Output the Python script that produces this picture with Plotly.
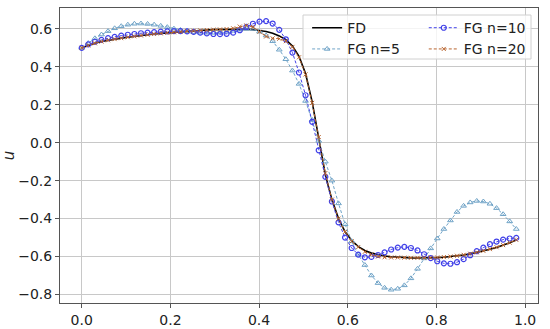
import plotly.graph_objects as go

x = [0.0, 0.0148, 0.0297, 0.0445, 0.0594, 0.0742, 0.0891, 0.1039, 0.1188, 0.1336,
     0.1485, 0.1633, 0.1782, 0.1930, 0.2079, 0.2227, 0.2376, 0.2524, 0.2673, 0.2821,
     0.2970, 0.3118, 0.3267, 0.3415, 0.3564, 0.3712, 0.3861, 0.4009, 0.4158, 0.4306,
     0.4455, 0.4603, 0.4752, 0.4900, 0.5048, 0.5197, 0.5345, 0.5494, 0.5642, 0.5791,
     0.5939, 0.6088, 0.6236, 0.6385, 0.6533, 0.6682, 0.6830, 0.6979, 0.7127, 0.7276,
     0.7424, 0.7573, 0.7721, 0.7870, 0.8018, 0.8167, 0.8315, 0.8464, 0.8612, 0.8761,
     0.8909, 0.9058, 0.9206, 0.9355, 0.9503, 0.9652, 0.9800]

fd = [0.500, 0.513, 0.524, 0.533, 0.540, 0.546, 0.551, 0.556, 0.561, 0.565,
      0.569, 0.573, 0.576, 0.579, 0.582, 0.585, 0.588, 0.590, 0.592, 0.594,
      0.596, 0.597, 0.598, 0.599, 0.599, 0.598, 0.596, 0.592, 0.586, 0.577,
      0.563, 0.543, 0.510, 0.455, 0.365, 0.215, 0.020, -0.170, -0.300, -0.400,
      -0.470, -0.515, -0.548, -0.568, -0.582, -0.591, -0.597, -0.601, -0.604, -0.606,
      -0.607, -0.608, -0.608, -0.607, -0.606, -0.604, -0.601, -0.597, -0.592, -0.586,
      -0.579, -0.571, -0.562, -0.552, -0.541, -0.528, -0.513]

fg5 = [0.500, 0.525, 0.550, 0.570, 0.588, 0.603, 0.614, 0.622, 0.627, 0.628,
       0.626, 0.622, 0.616, 0.609, 0.601, 0.594, 0.588, 0.583, 0.580, 0.579,
       0.579, 0.581, 0.585, 0.590, 0.596, 0.600, 0.600, 0.585, 0.565, 0.535,
       0.490, 0.440, 0.380, 0.310, 0.220, 0.120, 0.010, -0.100, -0.200, -0.320,
       -0.430, -0.520, -0.590, -0.645, -0.700, -0.740, -0.765, -0.775, -0.770, -0.752,
       -0.715, -0.665, -0.610, -0.557, -0.505, -0.455, -0.410, -0.365, -0.333, -0.315,
       -0.307, -0.310, -0.322, -0.345, -0.377, -0.415, -0.455]

fg10 = [0.500, 0.518, 0.532, 0.542, 0.551, 0.558, 0.564, 0.569, 0.573, 0.577,
        0.580, 0.583, 0.585, 0.587, 0.588, 0.588, 0.587, 0.584, 0.580, 0.576,
        0.573, 0.572, 0.574, 0.580, 0.593, 0.610, 0.627, 0.638, 0.641, 0.628,
        0.595, 0.545, 0.475, 0.370, 0.250, 0.110, -0.040, -0.180, -0.310, -0.420,
        -0.500, -0.555, -0.590, -0.604, -0.602, -0.592, -0.578, -0.563, -0.553, -0.549,
        -0.555, -0.568, -0.588, -0.608, -0.625, -0.636, -0.638, -0.630, -0.614, -0.593,
        -0.572, -0.553, -0.535, -0.521, -0.511, -0.505, -0.502]

fg20 = [0.500, 0.513, 0.524, 0.533, 0.540, 0.546, 0.551, 0.556, 0.561, 0.565,
        0.569, 0.573, 0.576, 0.579, 0.582, 0.585, 0.588, 0.590, 0.592, 0.594,
        0.596, 0.597, 0.599, 0.603, 0.612, 0.618, 0.610, 0.585, 0.560, 0.550,
        0.548, 0.535, 0.505, 0.450, 0.360, 0.210, 0.030, -0.160, -0.300, -0.400,
        -0.470, -0.520, -0.550, -0.575, -0.590, -0.600, -0.604, -0.605, -0.605, -0.606,
        -0.607, -0.607, -0.607, -0.606, -0.605, -0.603, -0.600, -0.596, -0.591, -0.585,
        -0.578, -0.570, -0.561, -0.551, -0.540, -0.527, -0.512]

FONT = "DejaVu Sans"
C5 = "#6fa3c7"
C10 = "#4040e8"
C20 = "#b8642e"
DASH = "3px,2px"

fig = go.Figure()
fig.add_trace(go.Scatter(x=x, y=fd, name="FD", mode="lines",
                         line=dict(color="black", width=1.6), legend="legend"))
fig.add_trace(go.Scatter(x=x, y=fg5, name="FG n=5", mode="lines+markers",
                         line=dict(color=C5, width=1, dash=DASH),
                         marker=dict(symbol="triangle-up-open", size=5,
                                     color=C5, line=dict(width=1, color=C5)),
                         legend="legend"))
fig.add_trace(go.Scatter(x=x, y=fg10, name="FG n=10", mode="lines+markers",
                         line=dict(color=C10, width=1, dash=DASH),
                         marker=dict(symbol="circle-open", size=5,
                                     color=C10, line=dict(width=1.2, color=C10)),
                         legend="legend2"))
fig.add_trace(go.Scatter(x=x, y=fg20, name="FG n=20", mode="lines+markers",
                         line=dict(color=C20, width=1, dash=DASH),
                         marker=dict(symbol="x-thin-open", size=4,
                                     color=C20, line=dict(width=1, color=C20)),
                         legend="legend2"))

axis_common = dict(showgrid=True, gridcolor="#c8c8c8", gridwidth=0.8,
                   showline=True, linecolor="#555555", linewidth=1, mirror=True,
                   ticks="outside", ticklen=4, tickcolor="#555555",
                   tickfont=dict(family=FONT, size=14, color="#222222"),
                   zeroline=False, dtick=0.2, tickformat=".1f", automargin=False)

fig.update_layout(
    width=550, height=329,
    margin=dict(l=60, r=12, t=8, b=26, autoexpand=False),
    paper_bgcolor="white", plot_bgcolor="white",
    font=dict(family=FONT, size=14, color="#222222"),
    xaxis=dict(range=[-0.049, 1.029], tick0=0, **axis_common),
    yaxis=dict(range=[-0.845, 0.71], tick0=0,
               title=dict(text="<i>u</i>", font=dict(family=FONT, size=15),
                          standoff=8),
               **axis_common),
    legend=dict(x=0.517, y=0.986, xanchor="left", yanchor="top",
                bgcolor="rgba(0,0,0,0)", borderwidth=0,
                font=dict(family=FONT, size=14), tracegroupgap=0,
                itemwidth=30),
    legend2=dict(x=0.761, y=0.986, xanchor="left", yanchor="top",
                 bgcolor="rgba(0,0,0,0)", borderwidth=0,
                 font=dict(family=FONT, size=14), tracegroupgap=0,
                 itemwidth=30),
    shapes=[dict(type="rect", xref="paper", yref="paper",
                 x0=(303 - 60) / 478, x1=(531 - 60) / 478,
                 y0=1 - (59 - 8) / 295, y1=1 - (15 - 8) / 295,
                 line=dict(color="#d0d0d0", width=1),
                 fillcolor="rgba(255,255,255,0.8)", layer="above")],
)

fig.write_html("out.html", config={"displayModeBar": False},
               post_script="document.body.style.margin='0';"
                           "document.body.style.overflow='hidden';")
